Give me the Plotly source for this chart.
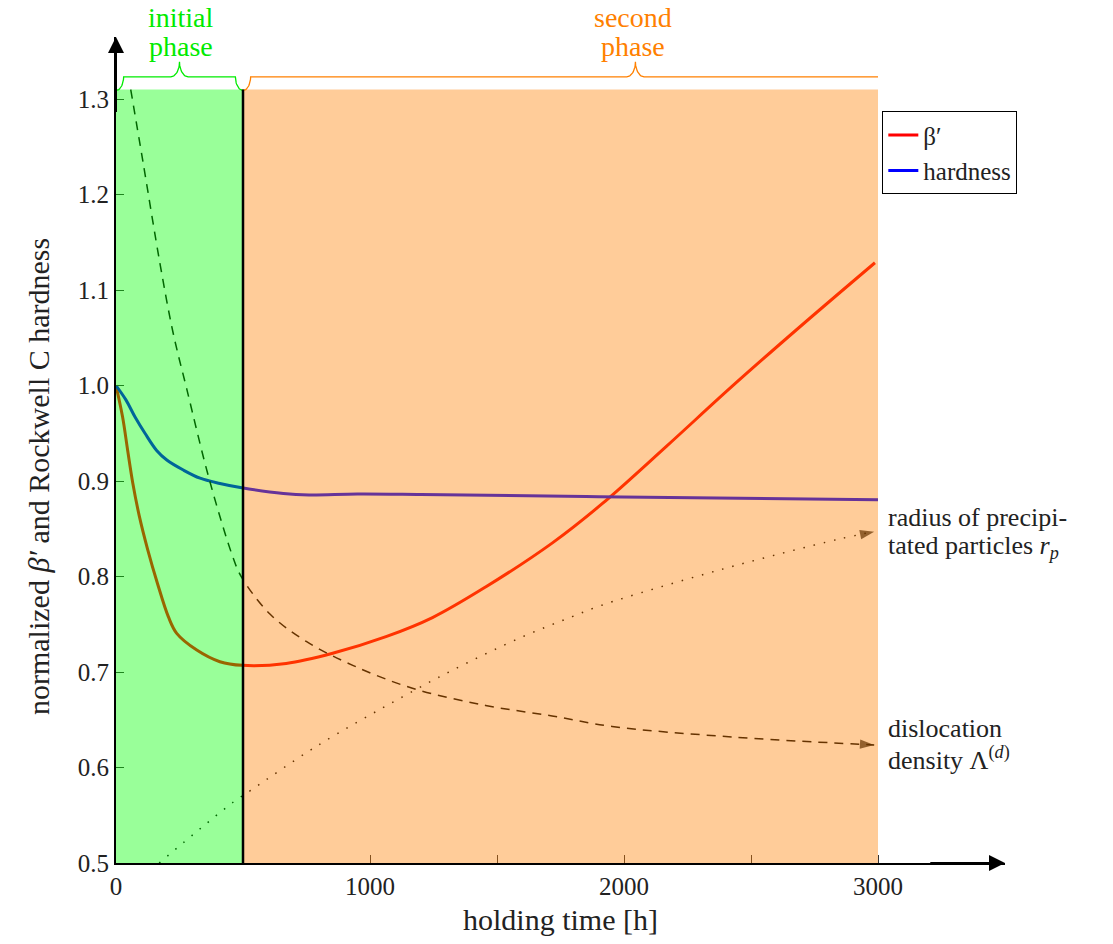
import numpy as np
import plotly.graph_objects as go

# ---- data -------------------------------------------------------------
# normalized beta' (holding time in h)
beta_t = [0, 26, 46, 66, 92, 125, 163, 206, 239, 318, 409, 497, 670, 853,
          1063, 1246, 1455, 1717, 1913, 2168, 2424, 2686, 2988]
beta_v = [1.000, 0.967, 0.932, 0.898, 0.863, 0.828, 0.793, 0.758, 0.7405,
          0.723, 0.7108, 0.707, 0.709, 0.7196, 0.737, 0.757, 0.789, 0.835,
          0.876, 0.9366, 0.9988, 1.060, 1.1286]

# normalized Rockwell C hardness
hard_t = [0, 39, 75, 114, 160, 200, 265, 331, 409, 495, 659, 760, 950,
          1200, 1900, 3000]
hard_v = [1.000, 0.985, 0.967, 0.950, 0.932, 0.922, 0.9115, 0.903, 0.8975,
          0.893, 0.887, 0.8855, 0.8865, 0.886, 0.8836, 0.8805]

# dislocation density (qualitative)
disl_t = [58, 107, 173, 225, 278, 368, 460, 493, 605, 749, 932, 1167, 1455,
          1717, 1953, 2424, 2985]
disl_v = [1.31, 1.233, 1.128, 1.055, 0.997, 0.901, 0.8205, 0.800, 0.761,
          0.732, 0.707, 0.683, 0.665, 0.654, 0.643, 0.632, 0.6236]

# radius of precipitated particles (qualitative)
rad_t = [170, 461, 530, 788, 1128, 1318, 1593, 1796, 1913, 2378, 2843, 2985]
rad_v = [0.500, 0.5636, 0.576, 0.622, 0.674, 0.701, 0.736, 0.758, 0.770,
         0.807, 0.839, 0.847]

# phases of the holding process
phase_edges = [0, 500, 3000]
phase_lines = [["initial", "phase"], ["second", "phase"]]
phase_label_x = [256, 2035]
brace_spans = [(0, 500), (500, 3590)]

x_ticks = [0, 500, 1000, 1500, 2000, 2500, 3000]
x_ticktext = ["0", "", "1000", "", "2000", "", "3000"]
y_ticks = [0.5, 0.6, 0.7, 0.8, 0.9, 1.0, 1.1, 1.2, 1.3]
y_ticktext = ["0.5", "0.6", "0.7", "0.8", "0.9", "1.0", "1.1", "1.2", "1.3"]

X_MAX, Y_MIN, Y_TOP, Y_MAX = 3500, 0.5, 1.31, 1.365

FONT = "Liberation Serif"
TXT = "#222"
GREEN = "rgb(0,235,0)"
ORANGE = "rgb(255,128,0)"


def brace(x0, x1, y_tip, y_flat, y_pip, w_corner, w_pip, clip=None, n=18):
    """Curly brace opening downwards between x0 and x1."""
    th = np.linspace(0, np.pi / 2, n)
    xc = 0.5 * (x0 + x1)
    dy1, dy2 = y_flat - y_tip, y_pip - y_flat
    xs = list(x0 + w_corner * np.sin(th))
    ys = list(y_tip + dy1 * (1 - np.cos(th)))
    xs += list(xc - w_pip + w_pip * np.sin(th))
    ys += list(y_flat + dy2 * (1 - np.cos(th)))
    xs += list(xc + w_pip - w_pip * np.sin(th[::-1]))
    ys += list(y_flat + dy2 * (1 - np.cos(th[::-1])))
    xs += list(x1 - w_corner * np.sin(th[::-1]))
    ys += list(y_tip + dy1 * (1 - np.cos(th[::-1])))
    if clip is not None and x1 > clip:
        keep = [i for i, v in enumerate(xs) if v <= clip]
        xs = [xs[i] for i in keep] + [clip]
        ys = [ys[i] for i in keep] + [ys[keep[-1]]]
    return xs, ys


fig = go.Figure()

fig.add_trace(go.Scatter(
    x=beta_t, y=beta_v, mode="lines", name="β′",
    line=dict(color="#ff0000", width=3, shape="spline", smoothing=1.0)))
fig.add_trace(go.Scatter(
    x=hard_t, y=hard_v, mode="lines", name="hardness",
    line=dict(color="#0000ff", width=3, shape="spline", smoothing=1.0)))

arrow_sym = lambda n: ["circle"] * (n - 1) + ["arrow"]
arrow_size = lambda n: [0] * (n - 1) + [15]

fig.add_trace(go.Scatter(
    x=disl_t, y=disl_v, mode="lines+markers", showlegend=False,
    line=dict(color="black", width=1.5, dash="9px,7px", shape="spline",
              smoothing=1.0),
    marker=dict(symbol=arrow_sym(len(disl_t)), size=arrow_size(len(disl_t)),
                angleref="previous", color="black", line=dict(width=0))))
fig.add_trace(go.Scatter(
    x=rad_t, y=rad_v, mode="lines+markers", showlegend=False,
    line=dict(color="black", width=1.5, dash="1.5px,9px", shape="spline",
              smoothing=1.0),
    marker=dict(symbol=arrow_sym(len(rad_t)), size=arrow_size(len(rad_t)),
                angleref="previous", color="black", line=dict(width=0))))

# braces over the phases
for (b0, b1), col in zip(brace_spans, [GREEN, ORANGE]):
    bx, by = brace(b0, b1, 1.309, 1.3233, 1.339, 30, 34, clip=phase_edges[-1])
    fig.add_trace(go.Scatter(x=bx, y=by, mode="lines", showlegend=False,
                             hoverinfo="skip", cliponaxis=False,
                             line=dict(color=col, width=1.3)))

# translucent phase shading drawn over the curves
shapes = [
    dict(type="rect", xref="x", yref="y", layer="above", line=dict(width=0),
         x0=phase_edges[0], x1=phase_edges[1], y0=Y_MIN, y1=Y_TOP,
         fillcolor="rgba(0,255,0,0.4)"),
    dict(type="rect", xref="x", yref="y", layer="above", line=dict(width=0),
         x0=phase_edges[1], x1=phase_edges[2], y0=Y_MIN, y1=Y_TOP,
         fillcolor="rgba(255,128,0,0.4)"),
    dict(type="line", xref="x", yref="y", layer="above",
         x0=phase_edges[1], x1=phase_edges[1], y0=Y_MIN, y1=Y_TOP,
         line=dict(color="black", width=2.5)),
]

annotations = []
# axis arrow heads
annotations.append(dict(x=X_MAX, y=Y_MIN, ax=X_MAX - 300, ay=Y_MIN,
                        xref="x", yref="y", axref="x", ayref="y", text="",
                        showarrow=True, arrowhead=2, arrowsize=1.6,
                        arrowwidth=2, arrowcolor="black"))
annotations.append(dict(x=0, y=Y_MAX, ax=0, ay=Y_MAX - 0.08,
                        xref="x", yref="y", axref="x", ayref="y", text="",
                        showarrow=True, arrowhead=2, arrowsize=1.6,
                        arrowwidth=2, arrowcolor="black"))
# phase labels (two lines each, above the plot area)
for lines, px, col in zip(phase_lines, phase_label_x, [GREEN, ORANGE]):
    for txt, py in zip(lines, [1.024, 0.988]):
        annotations.append(dict(x=px, y=py, xref="x", yref="paper", text=txt,
                                showarrow=False, xanchor="center",
                                yanchor="middle",
                                font=dict(family=FONT, size=28, color=col)))
# curve labels
curve_labels = [
    ("radius of precipi-", 0.8620),
    ("tated particles <i>r<sub>p</sub></i>", 0.8305),
    ("dislocation", 0.6405),
    ("density Λ<sup>(<i>d</i>)</sup>", 0.6090),
]
for txt, py in curve_labels:
    annotations.append(dict(x=3030, y=py, xref="x", yref="y", text=txt,
                            showarrow=False, xanchor="left", yanchor="middle",
                            align="left",
                            font=dict(family=FONT, size=26, color=TXT)))
# y axis title centred on the shaded axis span
annotations.append(dict(x=-0.088, y=(0.5 * (Y_MIN + Y_TOP) - Y_MIN) / (Y_MAX - Y_MIN),
                        xref="paper", yref="paper", textangle=-90,
                        text="normalized <i>β′</i> and Rockwell C hardness",
                        showarrow=False, xanchor="center", yanchor="middle",
                        font=dict(family=FONT, size=30, color=TXT)))

fig.update_layout(
    width=1113, height=944,
    margin=dict(l=116, r=108, t=37, b=81),
    paper_bgcolor="white", plot_bgcolor="white",
    font=dict(family=FONT, size=24, color=TXT),
    shapes=shapes, annotations=annotations,
    legend=dict(x=0.862, y=0.910, xanchor="left", yanchor="top",
                bgcolor="white", bordercolor="black", borderwidth=1,
                font=dict(family=FONT, size=25, color=TXT),
                itemwidth=30, tracegroupgap=0),
    xaxis=dict(range=[0, X_MAX], tickvals=x_ticks, ticktext=x_ticktext,
               ticks="inside", ticklen=8, tickwidth=1, tickcolor="#333",
               showline=True, linecolor="black", linewidth=2,
               showgrid=False, zeroline=False,
               tickfont=dict(family=FONT, size=25, color=TXT),
               title=dict(text="holding time [h]", standoff=10,
                          font=dict(family=FONT, size=30, color=TXT))),
    yaxis=dict(range=[Y_MIN, Y_MAX], tickvals=y_ticks, ticktext=y_ticktext,
               ticks="inside", ticklen=8, tickwidth=1, tickcolor="#333",
               showline=True, linecolor="black", linewidth=2,
               showgrid=False, zeroline=False,
               tickfont=dict(family=FONT, size=25, color=TXT)),
)

fig.write_html("out.html")
